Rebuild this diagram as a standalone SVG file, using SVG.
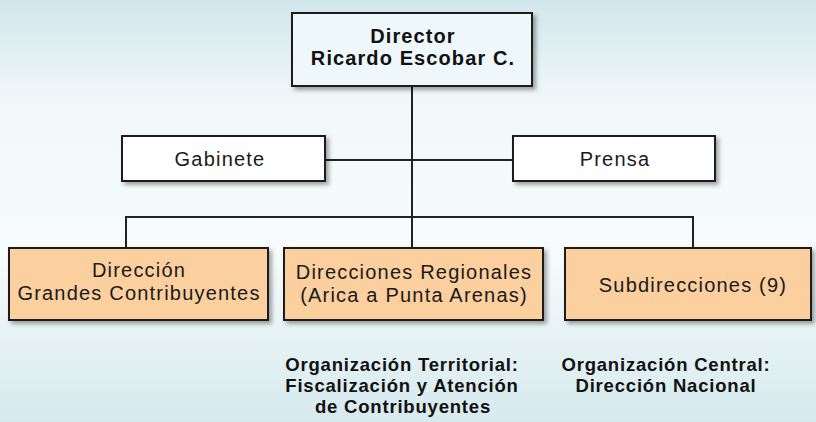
<svg xmlns="http://www.w3.org/2000/svg" width="816" height="422" viewBox="0 0 816 422">
<defs>
<linearGradient id="bg" x1="0" y1="0" x2="0" y2="1">
<stop offset="0" stop-color="#d2e7ec"/>
<stop offset="0.25" stop-color="#f2f8f9"/>
<stop offset="0.6" stop-color="#f7fbfb"/>
<stop offset="1" stop-color="#d6eaee"/>
</linearGradient>
<filter id="sh" x="-10%" y="-20%" width="125%" height="150%">
<feDropShadow dx="3" dy="3" stdDeviation="2.2" flood-color="#000" flood-opacity="0.35"/>
</filter>
</defs>
<style>
.box{stroke:#1e1e1e;stroke-width:2;filter:url(#sh)}
.top{fill:#eef7f9}
.staff{fill:#ffffff}
.unit{fill:#fccf9f}
.t{font-family:"Liberation Sans",Arial,sans-serif;font-size:20px;letter-spacing:1.2px;fill:#1a1a1a;text-anchor:middle}
.b{font-family:"Liberation Sans",Arial,sans-serif;font-weight:bold;font-size:20px;letter-spacing:1.1px;fill:#111;text-anchor:middle}
.n{font-family:"Liberation Sans",Arial,sans-serif;font-weight:bold;font-size:18.5px;letter-spacing:0.8px;fill:#111;text-anchor:middle}
.c{stroke:#222;stroke-width:2;fill:none}
</style>
<rect width="816" height="422" fill="url(#bg)"/>
<g id="connectors">
<line class="c" x1="412" y1="86" x2="412" y2="248"/>
<line class="c" x1="325" y1="160" x2="513" y2="160"/>
<polyline class="c" points="126,248 126,217 693,217 693,248"/>
</g>
<g id="director">
<rect class="box top" x="292" y="13" width="240" height="73"/>
<text class="b" x="413" y="43">Director</text>
<text class="b" x="413" y="65">Ricardo Escobar C.</text>
</g>
<g id="gabinete">
<rect class="box staff" x="122" y="136" width="203" height="45"/>
<text class="t" x="220" y="166">Gabinete</text>
</g>
<g id="prensa">
<rect class="box staff" x="513" y="136" width="202" height="45"/>
<text class="t" x="615" y="166">Prensa</text>
</g>
<g id="grandes">
<rect class="box unit" x="9" y="248" width="259" height="72"/>
<text class="t" x="139" y="277">Dirección</text>
<text class="t" x="139" y="300">Grandes Contribuyentes</text>
</g>
<g id="regionales">
<rect class="box unit" x="284" y="248" width="259" height="72"/>
<text class="t" x="414" y="279">Direcciones Regionales</text>
<text class="t" x="414" y="302">(Arica a Punta Arenas)</text>
</g>
<g id="subdirecciones">
<rect class="box unit" x="565" y="248" width="246" height="72"/>
<text class="t" x="693" y="292">Subdirecciones (9)</text>
</g>
<g id="notes">
<text class="n" x="402" y="371">Organización Territorial:</text>
<text class="n" x="402" y="392">Fiscalización y Atención</text>
<text class="n" x="403" y="413">de Contribuyentes</text>
<text class="n" x="666" y="371">Organización Central:</text>
<text class="n" x="666" y="392">Dirección Nacional</text>
</g>
</svg>
